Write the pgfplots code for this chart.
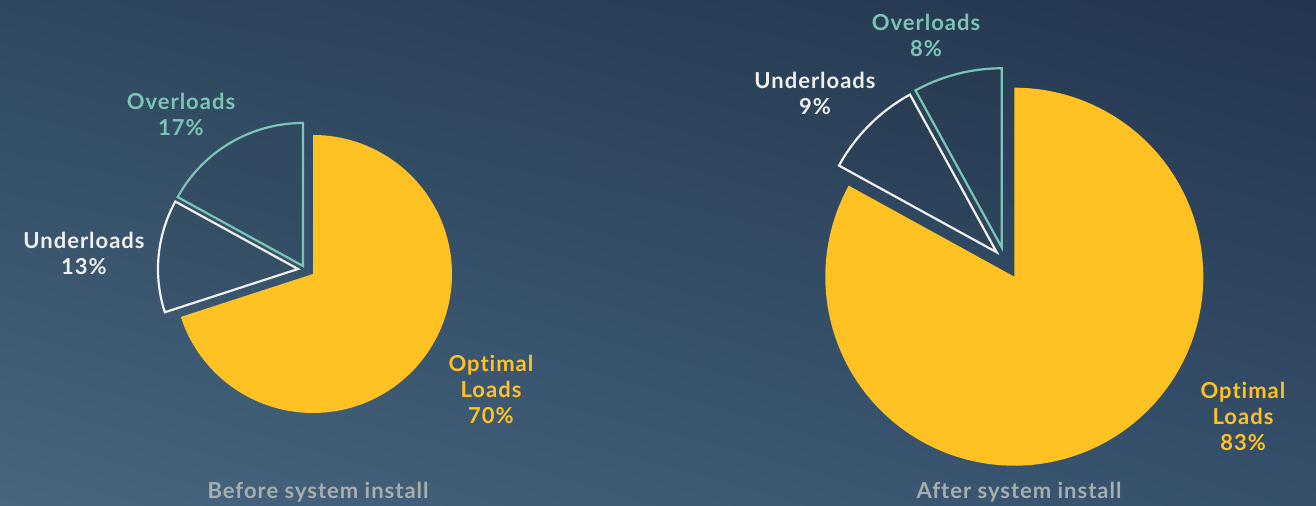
\documentclass[border=0pt]{standalone}
\usepackage{pgfplots}
\pgfplotsset{compat=1.18}
\usetikzlibrary{shadings}
\usepackage{fontspec}
\setmainfont{Lato}[LetterSpace=4.5, Ligatures=NoCommon]
\definecolor{bgUL}{HTML}{2E4860}
\definecolor{bgUR}{HTML}{24354E}
\definecolor{bgLL}{HTML}{47667F}
\definecolor{bgLR}{HTML}{36506B}
\definecolor{pieY}{HTML}{FFC222}
\definecolor{pieT}{HTML}{7CC5B6}
\definecolor{pieW}{HTML}{F0F0EE}
\definecolor{capG}{HTML}{A8AEAC}
\begin{document}
\begin{tikzpicture}
\shade[upper left=bgUL, upper right=bgUR, lower left=bgLL, lower right=bgLR] (0,0) rectangle (658pt,253pt);
\begin{axis}[at={(0,0)}, anchor=origin, x=0.5pt, y=0.5pt,
  xmin=0, xmax=1316, ymin=0, ymax=506, hide axis, clip=false]
% ---- Before: Optimal 70, Underloads 13, Overloads 17 (percent -> 3.6 deg each)
\addplot[draw=none, fill=pieY, domain=-162:90, samples=200]
  ({313+139*cos(x)}, {232+139*sin(x)}) -- (axis cs:313,232) -- cycle;
\addplot[draw=pieW, line width=1.1pt, fill=black, fill opacity=0.04, domain=151.2:198, samples=60]
  ({298+140*cos(x)}, {237+140*sin(x)}) -- (axis cs:298,237) -- cycle;
\addplot[draw=pieT, line width=1.1pt, fill=black, fill opacity=0.04, domain=90:151.2, samples=80]
  ({303+143*cos(x)}, {240+143*sin(x)}) -- (axis cs:303,240) -- cycle;
% ---- After: Optimal 83, Underloads 9, Overloads 8
\addplot[draw=none, fill=pieY, domain=151.2:450, samples=240]
  ({1014.3+189*cos(x)}, {229.3+189*sin(x)}) -- (axis cs:1014.3,229.3) -- cycle;
\addplot[draw=pieW, line width=1.1pt, fill=black, fill opacity=0.04, domain=118.8:151.2, samples=50]
  ({996.7+180*cos(x)}, {253.7+180*sin(x)}) -- (axis cs:996.7,253.7) -- cycle;
\addplot[draw=pieT, line width=1.1pt, fill=black, fill opacity=0.04, domain=90:118.8, samples=50]
  ({1001.7+179*cos(x)}, {258.7+179*sin(x)}) -- (axis cs:1001.7,258.7) -- cycle;
% ---- labels
\tikzset{lab/.style={font=\bfseries\fontsize{11}{13}\selectfont, align=center, inner sep=0pt}}
\node[lab, text=pieT] at (axis cs:181,392) {Overloads\\17\%};
\node[lab, text=pieW] at (axis cs:84,253) {Underloads\\13\%};
\node[lab, text=pieY] at (axis cs:491,117) {Optimal\\Loads\\70\%};
\node[lab, text=capG] at (axis cs:318,14) {Before system install};
\node[lab, text=pieT] at (axis cs:926,471) {Overloads\\8\%};
\node[lab, text=pieW] at (axis cs:815,413) {Underloads\\9\%};
\node[lab, text=pieY] at (axis cs:1243,90) {Optimal\\Loads\\83\%};
\node[lab, text=capG] at (axis cs:1019,14) {After system install};
\end{axis}
\end{tikzpicture}
\end{document}
